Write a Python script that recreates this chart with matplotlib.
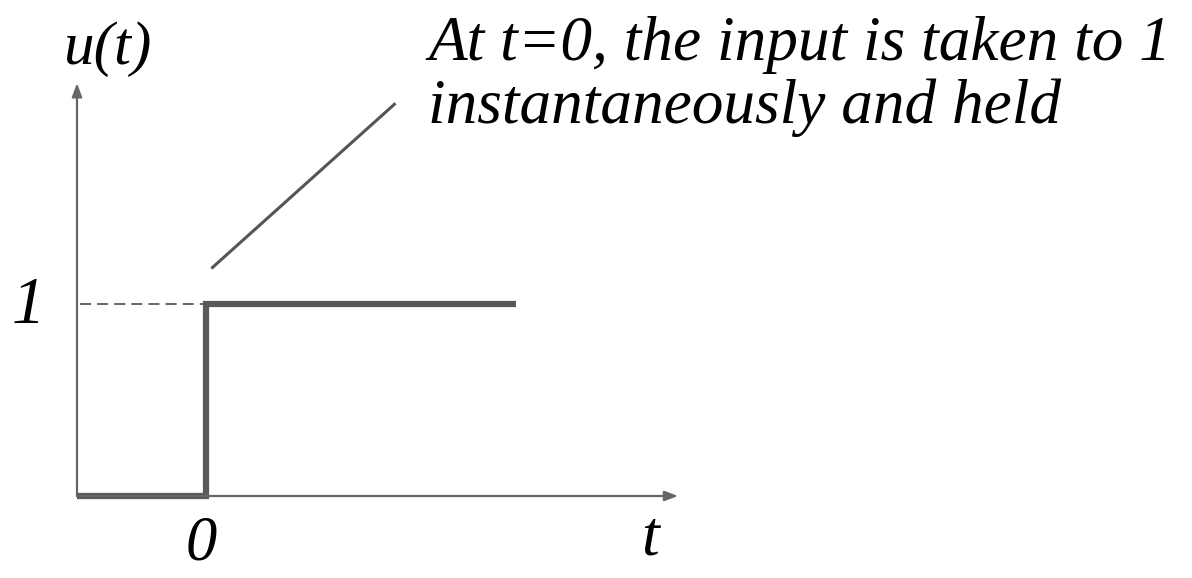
import matplotlib
matplotlib.use("Agg")
import matplotlib.pyplot as plt

# Data
t_step = [-1.0, 0.0, 0.0, 2.4]
u_step = [0.0, 0.0, 1.0, 1.0]
t_dash = [-0.98, 0.0]
u_dash = [1.0, 1.0]
annot_line_t = [0.05, 1.46]
annot_line_u = [1.19, 2.04]
annotation_lines = ["At t=0, the input is taken to 1", "instantaneously and held"]

DPI = 100
fig = plt.figure(figsize=(11.92, 5.78), dpi=DPI)
ax = fig.add_axes([0, 0, 1, 1])
ax.set_xlim(-206/129, (1192-206)/129)
ax.set_ylim(-(578-496)/192, 496/192)
ax.axis('off')

axc = '#666666'
# axes with arrows
ax.annotate('', xy=(-1.0, 2.15), xytext=(-1.0, 0.0),
            arrowprops=dict(arrowstyle='-|>,head_length=0.8,head_width=0.3', color=axc, lw=1.6, shrinkA=0, shrinkB=0))
ax.annotate('', xy=(3.66, 0.0), xytext=(-1.0, 0.0),
            arrowprops=dict(arrowstyle='-|>,head_length=0.8,head_width=0.3', color=axc, lw=1.6, shrinkA=0, shrinkB=0))

ax.plot(t_dash, u_dash, color=axc, lw=1.4, dashes=(5.7, 3.1))
ax.plot(t_step, u_step, color='#595959', lw=4.5, solid_joinstyle='miter', solid_capstyle='butt')
ax.plot(annot_line_t, annot_line_u, color='#555555', lw=2.2)

font = dict(family='Liberation Serif', style='italic', color='black')
ax.text(-0.76, 2.25, 'u(t)', fontsize=44, ha='center', va='baseline', **font)
ax.text(-1.38, 0.901, '1', fontsize=48, ha='center', va='baseline', **font)
ax.text(-0.04, -0.33, '0', fontsize=45, ha='center', va='baseline', **font)
ax.text(3.44, -0.307, 't', fontsize=46, ha='center', va='baseline', **font)
ax.text(1.721, 2.271, annotation_lines[0], fontsize=45.5, ha='left', va='baseline', **font)
ax.text(1.721, 1.943, annotation_lines[1], fontsize=45.5, ha='left', va='baseline', **font)

fig.savefig('out.png', dpi=DPI)
